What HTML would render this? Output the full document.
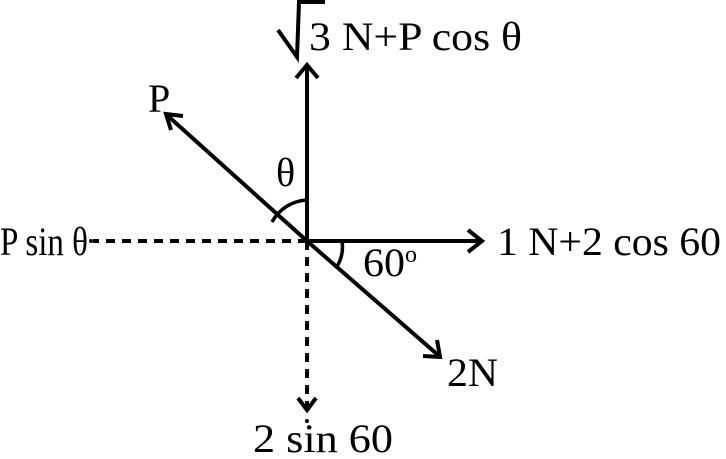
<!DOCTYPE html>
<html><head><style>body{margin:0;background:#fff}svg{display:block}</style></head>
<body>
<svg width="726" height="459" viewBox="0 0 726 459" xmlns="http://www.w3.org/2000/svg" fill="#000" font-family="'Liberation Serif', 'Times New Roman', Times, 'Nimbus Roman', serif">
<g stroke="#000" stroke-width="4" fill="none" stroke-linecap="butt">
<line x1="307" y1="241" x2="307" y2="66"/>
<polyline points="296,78 307,65 318,78"/>
<line x1="307" y1="241" x2="168" y2="116"/>
<polyline points="171,130 166,114 183,116"/>
<line x1="307" y1="241" x2="480" y2="241"/>
<polyline points="468,230 482,241 468,252"/>
<line x1="307" y1="241" x2="438" y2="355"/>
<polyline points="423,356 440,357 437,340"/>
<line x1="307" y1="241" x2="93" y2="241" stroke-dasharray="9,7"/>
<line x1="307" y1="241" x2="307" y2="408" stroke-dasharray="9,7"/>
<polyline points="298,398 307,410 316,398"/>
<path d="M272,222 A42,42 0 0 1 307,200" stroke-width="3.5"/>
<path d="M342,241 A38,38 0 0 1 336,268" stroke-width="3.5"/>
<polyline points="278,30 297,57 299,2 325,2" stroke-width="4"/>
</g>
<circle cx="91" cy="241" r="2"/>
<circle cx="307" cy="421" r="2"/>
<g font-size="40">
<text x="309" y="50" textLength="213" lengthAdjust="spacingAndGlyphs">3 N+P cos θ</text>
<text x="148" y="112">P</text>
<text x="276" y="186">θ</text>
<text x="0" y="255" textLength="88" lengthAdjust="spacingAndGlyphs">P sin θ</text>
<text x="497" y="255" textLength="224" lengthAdjust="spacingAndGlyphs">1 N+2 cos 60</text>
<text x="363" y="276" textLength="42" lengthAdjust="spacingAndGlyphs">60</text>
<text x="405" y="262" font-size="24">o</text>
<text x="447" y="386" textLength="51" lengthAdjust="spacingAndGlyphs">2N</text>
<text x="253" y="452" textLength="140" lengthAdjust="spacingAndGlyphs">2 sin 60</text>
</g>
</svg>
</body></html>
